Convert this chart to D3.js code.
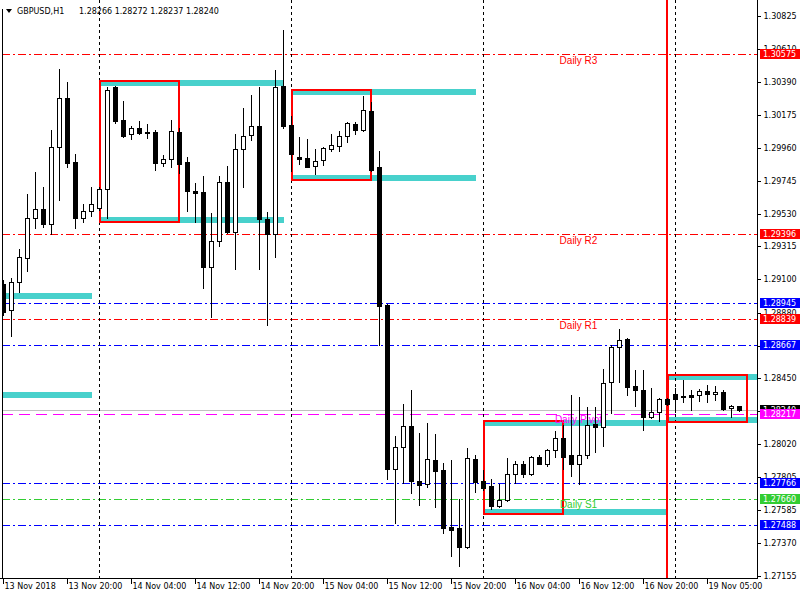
<!DOCTYPE html>
<html><head><meta charset="utf-8">
<script src="https://cdn.jsdelivr.net/npm/d3@7"></script>
<style>body{margin:0;background:#fff;} svg{display:block;}</style>
</head><body>
<svg id="c" width="800" height="600"></svg>
<script>
// ---------- DATA ----------
const symbolText = "GBPUSD,H1";
const headerValues = ["1.28266", "1.28272", "1.28237", "1.28240"];
const opens  = [1.29069,1.28898,1.29082,1.29239,1.29501,1.29560,1.29462,1.29966,1.30288,1.29868,1.29501,1.29547,1.29567,1.29691,1.30360,1.30143,1.30052,1.30091,1.30065,1.30065,1.29862,1.29888,1.30065,1.29868,1.29678,1.29672,1.29180,1.29350,1.29737,1.29409,1.29953,1.30045,1.30104,1.29495,1.29396,1.30366,1.30111,1.29901,1.29894,1.29842,1.29881,1.29953,1.29973,1.30039,1.30117,1.30078,1.30202,1.29835,1.28931,1.27856,1.28000,1.28138,1.27778,1.27758,1.27915,1.27850,1.27476,1.27470,1.27345,1.27922,1.27778,1.27745,1.27614,1.27653,1.27824,1.27889,1.27824,1.27935,1.27889,1.27981,1.28059,1.27948,1.27889,1.27948,1.28151,1.28131,1.28426,1.28656,1.28708,1.28400,1.28374,1.28197,1.28230,1.28315,1.28348,1.28335,1.28341,1.28341,1.28367,1.28348,1.28361,1.28256,1.28266];
const highs  = [1.29095,1.29108,1.29298,1.29658,1.29803,1.29704,1.30078,1.30478,1.30392,1.29921,1.29593,1.29704,1.29704,1.30360,1.30366,1.30268,1.30104,1.30137,1.30117,1.30078,1.29914,1.30143,1.30091,1.29901,1.29731,1.29776,1.29534,1.29776,1.29842,1.30052,1.30222,1.30307,1.30360,1.29540,1.30471,1.30733,1.30170,1.30032,1.30019,1.29953,1.29966,1.30052,1.30071,1.30130,1.30130,1.30301,1.30261,1.29940,1.28935,1.28072,1.28282,1.28374,1.28092,1.28158,1.28086,1.27896,1.27915,1.27660,1.27994,1.27948,1.27850,1.27791,1.27758,1.27928,1.27909,1.27909,1.27941,1.27948,1.27987,1.28105,1.28145,1.28341,1.28328,1.28263,1.28263,1.28512,1.28669,1.28774,1.28712,1.28505,1.28505,1.28387,1.28322,1.28322,1.28387,1.28440,1.28374,1.28381,1.28407,1.28400,1.28374,1.28276,1.28272];
const lows   = [1.28866,1.28728,1.29016,1.29154,1.29436,1.29442,1.29396,1.29619,1.29835,1.29436,1.29475,1.29514,1.29554,1.29501,1.30124,1.30035,1.30019,1.30052,1.30026,1.29816,1.29842,1.29835,1.29796,1.29547,1.29475,1.29042,1.28852,1.29318,1.29405,1.29167,1.29704,1.30012,1.29167,1.28800,1.29246,1.30091,1.29809,1.29855,1.29833,1.29790,1.29849,1.29940,1.29940,1.29999,1.30052,1.30071,1.29812,1.28669,1.27791,1.27502,1.27765,1.27699,1.27620,1.27738,1.27607,1.27437,1.27286,1.27221,1.27341,1.27706,1.27719,1.27594,1.27607,1.27647,1.27765,1.27804,1.27820,1.27886,1.27876,1.27935,1.27856,1.27810,1.27758,1.27928,1.27968,1.28007,1.28223,1.28426,1.28341,1.28269,1.28112,1.28190,1.28171,1.28276,1.28230,1.28295,1.28243,1.28302,1.28295,1.28308,1.28246,1.28197,1.28237];
const closes = [1.28885,1.29082,1.29246,1.29501,1.29560,1.29462,1.29966,1.30288,1.29862,1.29501,1.29547,1.29593,1.29691,1.30340,1.30137,1.30039,1.30091,1.30058,1.30063,1.29862,1.29888,1.30071,1.29855,1.29678,1.29665,1.29180,1.29350,1.29737,1.29409,1.29953,1.30039,1.30104,1.29495,1.29396,1.30360,1.30104,1.29921,1.29888,1.29835,1.29875,1.29960,1.29980,1.30039,1.30124,1.30078,1.30209,1.29816,1.28924,1.27856,1.28000,1.28138,1.27778,1.27751,1.27922,1.27843,1.27470,1.27456,1.27345,1.27928,1.27771,1.27732,1.27614,1.27653,1.27824,1.27889,1.27824,1.27935,1.27889,1.27981,1.28059,1.27935,1.27889,1.27948,1.28145,1.28131,1.28420,1.28656,1.28702,1.28394,1.28374,1.28197,1.28230,1.28315,1.28282,1.28315,1.28332,1.28328,1.28367,1.28348,1.28361,1.28249,1.28269,1.28240];

const xTickIndex  = [0, 8, 16, 24, 32, 40, 48, 56, 64, 72, 80, 88];
const xTickLabels = ["13 Nov 2018","13 Nov 20:00","14 Nov 04:00","14 Nov 12:00","14 Nov 20:00","15 Nov 04:00","15 Nov 12:00","15 Nov 20:00","16 Nov 04:00","16 Nov 12:00","16 Nov 20:00","19 Nov 05:00"];
const yTickValues = [1.30825,1.30610,1.30390,1.30175,1.29960,1.29745,1.29530,1.29315,1.29100,1.28880,1.28665,1.28450,1.28235,1.28020,1.27805,1.27585,1.27370,1.27155];
const daySeparators = [12, 36, 60, 84];

const levelValues = [1.30575, 1.29396, 1.28945, 1.28839, 1.28667, 1.28217, 1.27766, 1.27660, 1.27488];
const levelNames  = ["Daily R3", "Daily R2", "", "Daily R1", "", "Daily Pivot", "", "Daily S1", ""];
const levelKinds  = ["res", "res", "band", "res", "band", "pivot", "band", "sup", "band"];

const zoneStart  = [-12, 12, 36, 60, 83];
const zoneBoxEnd = [-2, 22, 46, 70, 93];
const zoneExtEnd = [11, 35, 59, 82.9, 97];
const zoneHigh   = [1.29010, 1.30406, 1.30347, 1.28177, 1.28482];
const zoneLow    = [1.28322, 1.29468, 1.29744, 1.27555, 1.28158];

const weekMarkIndex = 83;
const bidPrice = 1.28240;

// ---------- STYLE ----------
const kindColor = {res:"#ff0000", band:"#0000ff", pivot:"#ff00ff", sup:"#32cd32"};
const cyan = "#48d1cc";
const axisFont = "'DejaVu Sans', sans-serif";
const axisSize = "8px";
const L = 2, R = 757, T = 0, B = 578;

const svg = d3.select("#c");
svg.append("rect").attr("width",800).attr("height",600).attr("fill","#fff");

const x = d3.scaleLinear().domain([0, 92]).range([3.5, 739.5]);
const y = d3.scaleLinear().domain([1.27155, 1.30825]).range([576, 16]);
const py = v => Math.round(y(v)) + 0.5;

svg.append("defs").append("clipPath").attr("id","plot")
  .append("rect").attr("x",L).attr("y",T).attr("width",R-L).attr("height",B-T);
const plot = svg.append("g").attr("clip-path","url(#plot)").attr("shape-rendering","crispEdges");

// cyan zone bars
const zones = zoneStart.map((s,i)=>({s, be:zoneBoxEnd[i], ee:zoneExtEnd[i], hi:zoneHigh[i], lo:zoneLow[i]}));
zones.forEach(z=>{
  const x0 = x(z.s)-0.5, x1 = x(z.ee);
  plot.append("rect").attr("x",x0).attr("width",x1-x0)
    .attr("y",Math.round(y(z.hi))).attr("height",6).attr("fill",cyan);
  plot.append("rect").attr("x",x0).attr("width",x1-x0)
    .attr("y",Math.round(y(z.lo))-6).attr("height",6).attr("fill",cyan);
});

// bid line
plot.append("line").attr("x1",L).attr("x2",R).attr("y1",py(bidPrice)).attr("y2",py(bidPrice))
  .attr("stroke","#c0c0c0").attr("stroke-width",1);

// level lines
levelValues.forEach((v,i)=>{
  const k = levelKinds[i];
  plot.append("line").attr("x1",L).attr("x2",R).attr("y1",py(v)).attr("y2",py(v))
    .attr("stroke",kindColor[k]).attr("stroke-width",1)
    .attr("stroke-dasharray", k==="pivot" ? "11,6" : "8,3,2,3");
});

// day separators
daySeparators.forEach(d=>{
  plot.append("line").attr("x1",x(d)-0.5).attr("x2",x(d)-0.5).attr("y1",T).attr("y2",B)
    .attr("stroke","#000").attr("stroke-width",1).attr("stroke-dasharray","3,3");
});

// week mark (red vertical)
plot.append("line").attr("x1",x(weekMarkIndex)-0.5).attr("x2",x(weekMarkIndex)-0.5)
  .attr("y1",T).attr("y2",B).attr("stroke","#ff0000").attr("stroke-width",2.5);

// red boxes
zones.forEach(z=>{
  const x0 = x(z.s), x1 = x(z.be)-1;
  const y0 = Math.round(y(z.hi))+0.5, y1 = Math.round(y(z.lo))-1;
  plot.append("rect").attr("x",x0).attr("y",y0).attr("width",x1-x0).attr("height",y1-y0)
    .attr("fill","none").attr("stroke","#ff0000").attr("stroke-width",2);
});

// level names
levelNames.forEach((n,i)=>{
  if(!n) return;
  plot.append("text").attr("x",578.5).attr("y",y(levelValues[i])+9.5)
    .attr("text-anchor","middle").attr("font-family","'Liberation Sans', Arial, sans-serif")
    .attr("font-size","10px").attr("fill",kindColor[levelKinds[i]]).text(n);
});

// candles
const bars = opens.map((o,i)=>({i, o, h:highs[i], l:lows[i], c:closes[i]}));
const cg = plot.append("g");
bars.forEach(b=>{
  const cx = x(b.i);
  cg.append("line").attr("x1",cx).attr("x2",cx).attr("y1",Math.round(y(b.h))).attr("y2",Math.round(y(b.l))+1)
    .attr("stroke","#000").attr("stroke-width",1);
  const top = Math.round(y(Math.max(b.o,b.c)))+0.5;
  const bot = Math.round(y(Math.min(b.o,b.c)))+0.5;
  cg.append("rect").attr("x",cx-2).attr("width",4)
    .attr("y",top).attr("height",Math.max(1,bot-top))
    .attr("fill", b.c>b.o ? "#fff" : "#000").attr("stroke","#000").attr("stroke-width",1);
});

// frame
const fr = svg.append("g").attr("shape-rendering","crispEdges");
fr.append("line").attr("x1",L+0.5).attr("x2",L+0.5).attr("y1",9).attr("y2",B+0.5).attr("stroke","#000");
fr.append("line").attr("x1",R+0.5).attr("x2",R+0.5).attr("y1",0).attr("y2",B+0.5).attr("stroke","#000");
fr.append("line").attr("x1",0).attr("x2",R+1).attr("y1",B+0.5).attr("y2",B+0.5).attr("stroke","#000");

// right axis
const ya = svg.append("g").attr("transform",`translate(${R+0.5},0)`)
  .call(d3.axisRight(y).tickValues(yTickValues).tickSize(3).tickSizeOuter(0).tickPadding(3).tickFormat(d3.format(".5f")));
ya.select(".domain").remove();
ya.selectAll("line").attr("stroke","#000").attr("shape-rendering","crispEdges");
ya.selectAll("text").attr("font-family",axisFont).attr("font-size",axisSize).attr("fill","#000");

// price labels on axis
const priceTags = [{v:bidPrice, col:"#000"}].concat(levelValues.map((v,i)=>({v, col:kindColor[levelKinds[i]]})));
priceTags.forEach(t=>{
  const cy = y(t.v);
  svg.append("rect").attr("x",760).attr("y",Math.round(cy)-5).attr("width",40).attr("height",10)
    .attr("fill",t.col).attr("shape-rendering","crispEdges");
  svg.append("text").attr("x",763).attr("y",cy).attr("dy","0.35em")
    .attr("font-family",axisFont).attr("font-size",axisSize).attr("fill","#fff").text(d3.format(".5f")(t.v));
});

// bottom axis
const xt = x.copy().range([3, 739]);
const xa = svg.append("g").attr("transform",`translate(0,${B+0.5})`)
  .call(d3.axisBottom(xt).tickValues(xTickIndex).tickSize(5).tickSizeOuter(0).tickFormat((d,i)=>xTickLabels[i]));
xa.select(".domain").remove();
xa.selectAll("line").attr("stroke","#000").attr("shape-rendering","crispEdges");
xa.selectAll("text").attr("text-anchor","start").attr("x",1).attr("y",5).attr("dy","0.71em")
  .attr("font-family",axisFont).attr("font-size",axisSize).attr("fill","#000");

// header
svg.append("path").attr("d","M6,9 L12,9 L9,13 Z").attr("fill","#000");
svg.append("text").attr("x",17).attr("y",14).attr("font-family",axisFont).attr("font-size",axisSize)
  .attr("fill","#000").text(symbolText);
svg.append("text").attr("x",79).attr("y",14).attr("font-family",axisFont).attr("font-size",axisSize)
  .attr("fill","#000").text(headerValues.join(" "));
</script>
</body></html>
